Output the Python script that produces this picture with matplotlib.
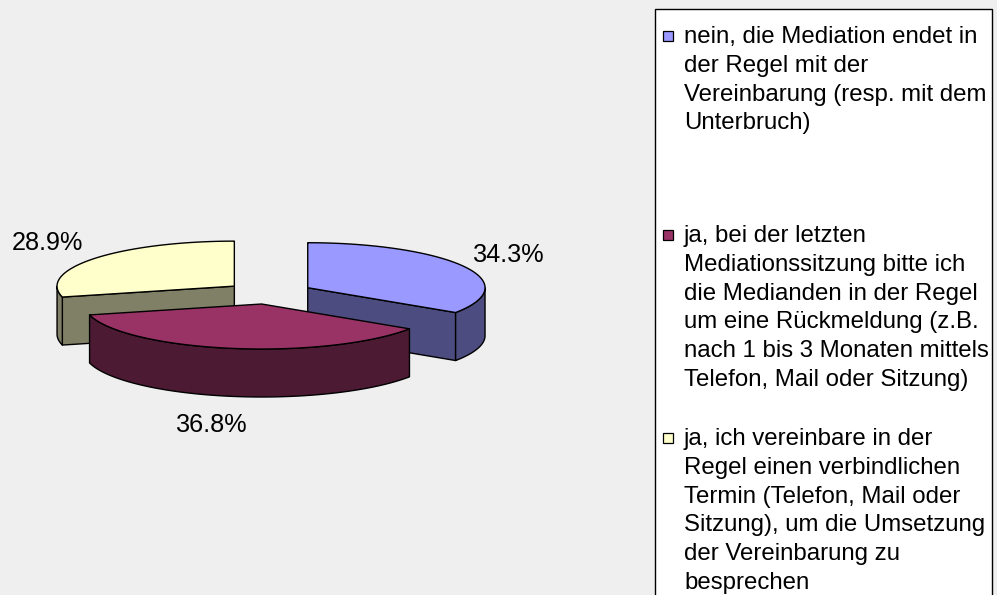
import numpy as np
import matplotlib
matplotlib.use("Agg")
import matplotlib.pyplot as plt
from matplotlib.patches import Polygon, Rectangle

# ---------------- data ----------------
categories = [
    "nein, die Mediation endet in\nder Regel mit der\nVereinbarung (resp. mit dem\nUnterbruch)",
    "ja, bei der letzten\nMediationssitzung bitte ich\ndie Medianden in der Regel\num eine Rückmeldung (z.B.\nnach 1 bis 3 Monaten mittels\nTelefon, Mail oder Sitzung)",
    "ja, ich vereinbare in der\nRegel einen verbindlichen\nTermin (Telefon, Mail oder\nSitzung), um die Umsetzung\nder Vereinbarung zu\nbesprechen",
]
values = [34.3, 36.8, 28.9]
pct_labels = ["34.3%", "36.8%", "28.9%"]

# ---------------- style / layout ----------------
top_colors = ["#9999FF", "#993366", "#FFFFCC"]
side_colors = ["#4C4C80", "#4D1A33", "#808066"]
BG = "#EFEFEF"
W, H = 997, 595
CX, CY = 269.0, 293.0      # pie centre (pixels)
A, B = 177.3, 45.0         # ellipse semi axes
DEPTH = 48.0
EXPLODE = 0.248
label_pos = [(509, 255), (212, 425), (47, 243)]
legend_box = (655, 9, 337, 620)
legend_first_baseline = [43, 242, 445]
LINE_H = 28.8
FONT = "Liberation Sans"

fig = plt.figure(figsize=(W / 100, H / 100), dpi=100, facecolor=BG)
ax = fig.add_axes([0, 0, 1, 1])
ax.set_xlim(0, W)
ax.set_ylim(H, 0)
ax.axis("off")
ax.set_facecolor(BG)

EC = "#000000"
LW = 1.0


def ell(cx, cy, th, dz=0.0):
    return cx + A * np.cos(th), cy - B * np.sin(th) + dz


total = float(sum(values))
slices = []
start = np.pi / 2
for i, v in enumerate(values):
    span = 2 * np.pi * v / total
    end = start - span
    mid = (start + end) / 2
    cx = CX + EXPLODE * A * np.cos(mid)
    cy = CY - EXPLODE * B * np.sin(mid)
    slices.append(dict(i=i, start=start, end=end, cx=cx, cy=cy))
    start = end

# back-to-front order
for s in sorted(slices, key=lambda d: d["cy"]):
    i, st, en, cx, cy = s["i"], s["start"], s["end"], s["cx"], s["cy"]
    # radial walls
    walls = []
    if np.cos(st) < -1e-6:
        walls.append(st)
    if np.cos(en) > 1e-6:
        walls.append(en)
    for th in walls:
        ex, ey = ell(cx, cy, th)
        poly = [(cx, cy), (ex, ey), (ex, ey + DEPTH), (cx, cy + DEPTH)]
        ax.add_patch(Polygon(poly, closed=True, facecolor=side_colors[i],
                             edgecolor=EC, lw=LW, joinstyle="round"))
    # outer rim (front half only)
    t = np.linspace(st, en, 600)
    front = np.sin(t) <= 0
    idx = np.where(front)[0]
    if idx.size:
        groups = np.split(idx, np.where(np.diff(idx) != 1)[0] + 1)
        for g in groups:
            tt = t[g]
            xs, ys = ell(cx, cy, tt)
            top = list(zip(xs, ys))
            bot = list(zip(xs[::-1], (ys + DEPTH)[::-1]))
            ax.add_patch(Polygon(top + bot, closed=True,
                                 facecolor=side_colors[i], edgecolor=EC,
                                 lw=LW, joinstyle="round"))
    # top face
    xs, ys = ell(cx, cy, t)
    poly = [(cx, cy)] + list(zip(xs, ys))
    ax.add_patch(Polygon(poly, closed=True, facecolor=top_colors[i],
                         edgecolor=EC, lw=LW, joinstyle="round"))

# percentage labels
for i, lab in enumerate(pct_labels):
    x, y = label_pos[i]
    ax.text(x, y, lab, ha="center", va="center", fontsize=18.2,
            family=FONT, color="#000000")

# legend
lx, ly, lw_, lh = legend_box
ax.add_patch(Rectangle((lx, ly), lw_, lh, facecolor="white",
                       edgecolor="#000000", lw=1.0, clip_on=False))
for i, cat in enumerate(categories):
    b0 = legend_first_baseline[i]
    ax.add_patch(Rectangle((663, b0 - 12), 10, 10, facecolor=top_colors[i],
                           edgecolor="#000000", lw=0.9))
    for k, line in enumerate(cat.split("\n")):
        ax.text(684, b0 + k * LINE_H, line, ha="left", va="baseline",
                fontsize=17.3, family=FONT, color="#000000")

fig.savefig("out.png", dpi=100, facecolor=BG)
